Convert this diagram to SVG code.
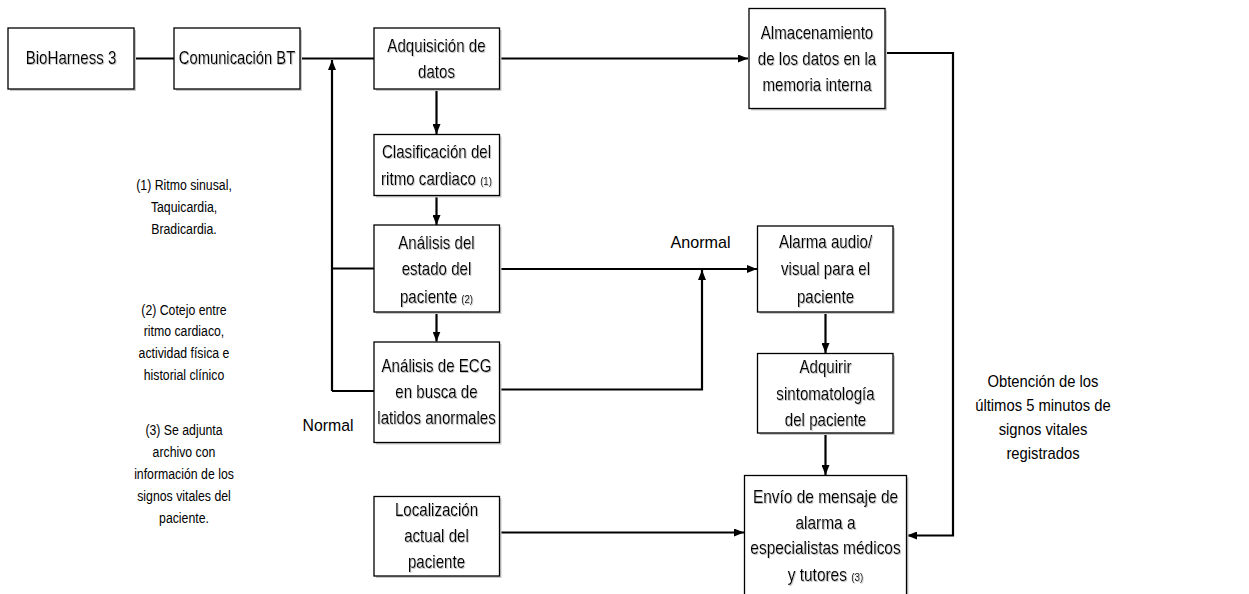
<svg xmlns="http://www.w3.org/2000/svg" width="1249" height="594" viewBox="0 0 1249 594">
<style>
.box{fill:#fff;stroke:#000;stroke-width:1.3}
.sh{fill:#c8c8c8}
.t{font-family:"Liberation Sans",Arial,sans-serif;font-size:18px;text-anchor:middle;fill:#000}
.n{font-family:"Liberation Sans",Arial,sans-serif;font-size:15px;text-anchor:middle;fill:#000}
.l{font-family:"Liberation Sans",Arial,sans-serif;font-size:17px;text-anchor:middle;fill:#000}
.o{font-family:"Liberation Sans",Arial,sans-serif;font-size:17px;text-anchor:middle;fill:#000}
.s{font-size:11.5px}
.c{fill:none;stroke:#000;stroke-width:2.2}
</style>
<defs>
<marker id="ah" markerWidth="10" markerHeight="8" refX="10" refY="4" orient="auto" markerUnits="userSpaceOnUse">
<path d="M0,0 L10,4 L0,8 Z" fill="#000"/>
</marker>
<filter id="ts" x="-5%" y="-20%" width="110%" height="140%">
<feDropShadow dx="1" dy="1" stdDeviation="0.4" flood-color="#9a9a9a" flood-opacity="0.6"/>
</filter>
</defs>
<rect width="1249" height="594" fill="#fff"/>

<g id="connectors">
<path class="c" d="M134,58.5 H174"/>
<path class="c" d="M300,58.5 H374"/>
<path class="c" d="M332,391 V60" marker-end="url(#ah)"/>
<path class="c" d="M332,268.5 H374"/>
<path class="c" d="M332,391 H374"/>
<path class="c" d="M499,58.5 H748" marker-end="url(#ah)"/>
<path class="c" d="M436.5,89 V134" marker-end="url(#ah)"/>
<path class="c" d="M436.5,195 V225" marker-end="url(#ah)"/>
<path class="c" d="M436.5,312 V341.5" marker-end="url(#ah)"/>
<path class="c" d="M499,269 H757" marker-end="url(#ah)"/>
<path class="c" d="M499,389.5 H702 V270" marker-end="url(#ah)"/>
<path class="c" d="M825.5,312 V353" marker-end="url(#ah)"/>
<path class="c" d="M825.5,433 V475" marker-end="url(#ah)"/>
<path class="c" d="M499,532.5 H744" marker-end="url(#ah)"/>
<path class="c" d="M885,53 H953 V535.5 H907" marker-end="url(#ah)"/>
</g>

<g id="bioharness">
<rect class="sh" x="10" y="30" width="126" height="61"/>
<rect class="box" x="8" y="28" width="126" height="61"/>
<g transform="translate(71 0) scale(0.84 1)" filter="url(#ts)">
<text class="t" x="0" y="64.5">BioHarness 3</text>
</g>
</g>
<g id="comunicacion">
<rect class="sh" x="176" y="30" width="126" height="61"/>
<rect class="box" x="174" y="28" width="126" height="61"/>
<g transform="translate(237 0) scale(0.82 1)" filter="url(#ts)">
<text class="t" x="0" y="64.5">Comunicación BT</text>
</g>
</g>
<g id="adquisicion">
<rect class="sh" x="376" y="30" width="125.5" height="61"/>
<rect class="box" x="374" y="28" width="125.5" height="61"/>
<g transform="translate(436.5 0) scale(0.84 1)" filter="url(#ts)">
<text class="t" x="0" y="52">Adquisición de</text>
<text class="t" x="0" y="78">datos</text>
</g>
</g>
<g id="almacenamiento">
<rect class="sh" x="751" y="10.5" width="136" height="100"/>
<rect class="box" x="749" y="8.5" width="136" height="100"/>
<g transform="translate(817 0) scale(0.84 1)" filter="url(#ts)">
<text class="t" x="0" y="39.5">Almacenamiento</text>
<text class="t" x="0" y="65.5">de los datos en la</text>
<text class="t" x="0" y="91.5">memoria interna</text>
</g>
</g>
<g id="clasificacion">
<rect class="sh" x="376" y="136.5" width="125.5" height="61"/>
<rect class="box" x="374" y="134.5" width="125.5" height="61"/>
<g transform="translate(436.5 0) scale(0.84 1)" filter="url(#ts)">
<text class="t" x="0" y="158">Clasificación del</text>
<text class="t" x="0" y="185.5">ritmo cardiaco <tspan class="s">(1)</tspan></text>
</g>
</g>
<g id="analisis-estado">
<rect class="sh" x="376" y="227" width="125.5" height="87"/>
<rect class="box" x="374" y="225" width="125.5" height="87"/>
<g transform="translate(436.5 0) scale(0.84 1)" filter="url(#ts)">
<text class="t" x="0" y="249">Análisis del</text>
<text class="t" x="0" y="275.5">estado del</text>
<text class="t" x="0" y="303">paciente <tspan class="s">(2)</tspan></text>
</g>
</g>
<g id="analisis-ecg">
<rect class="sh" x="376" y="344" width="125.5" height="100.5"/>
<rect class="box" x="374" y="342" width="125.5" height="100.5"/>
<g transform="translate(436.5 0) scale(0.84 1)" filter="url(#ts)">
<text class="t" x="0" y="372.5">Análisis de ECG</text>
<text class="t" x="0" y="398">en busca de</text>
<text class="t" x="0" y="424.5">latidos anormales</text>
</g>
</g>
<g id="localizacion">
<rect class="sh" x="376" y="498.5" width="125.5" height="79.5"/>
<rect class="box" x="374" y="496.5" width="125.5" height="79.5"/>
<g transform="translate(436.5 0) scale(0.84 1)" filter="url(#ts)">
<text class="t" x="0" y="516.5">Localización</text>
<text class="t" x="0" y="542">actual del</text>
<text class="t" x="0" y="568">paciente</text>
</g>
</g>
<g id="alarma">
<rect class="sh" x="759.5" y="228" width="135.5" height="86"/>
<rect class="box" x="757.5" y="226" width="135.5" height="86"/>
<g transform="translate(825.5 0) scale(0.84 1)" filter="url(#ts)">
<text class="t" x="0" y="248.5">Alarma audio/</text>
<text class="t" x="0" y="275.5">visual para el</text>
<text class="t" x="0" y="303">paciente</text>
</g>
</g>
<g id="adquirir">
<rect class="sh" x="759.5" y="355.5" width="135.5" height="79.5"/>
<rect class="box" x="757.5" y="353.5" width="135.5" height="79.5"/>
<g transform="translate(825.5 0) scale(0.84 1)" filter="url(#ts)">
<text class="t" x="0" y="373.5">Adquirir</text>
<text class="t" x="0" y="400">sintomatología</text>
<text class="t" x="0" y="426">del paciente</text>
</g>
</g>
<g id="envio">
<rect class="sh" x="746.5" y="477.5" width="162" height="130"/>
<rect class="box" x="744.5" y="475.5" width="162" height="130"/>
<g transform="translate(825.5 0) scale(0.86 1)" filter="url(#ts)">
<text class="t" x="0" y="503">Envío de mensaje de</text>
<text class="t" x="0" y="529">alarma a</text>
<text class="t" x="0" y="554.5">especialistas médicos</text>
<text class="t" x="0" y="581">y tutores <tspan class="s">(3)</tspan></text>
</g>
</g>

<g id="labels">
<g transform="translate(700.5 0) scale(0.95 1)">
<text class="l" x="0" y="248">Anormal</text>
</g>
<g transform="translate(328 0) scale(0.93 1)">
<text class="l" x="0" y="431">Normal</text>
</g>
<g transform="translate(1043 0) scale(0.87 1)">
<text class="o" x="0" y="387.5">Obtención de los</text>
<text class="o" x="0" y="411.5">últimos 5 minutos de</text>
<text class="o" x="0" y="435.5">signos vitales</text>
<text class="o" x="0" y="459">registrados</text>
</g>
</g>
<g id="notes" transform="translate(184 0) scale(0.82 1)">
<text class="n" x="0" y="190">(1) Ritmo sinusal,</text>
<text class="n" x="0" y="212">Taquicardia,</text>
<text class="n" x="0" y="234">Bradicardia.</text>
<text class="n" x="0" y="315.5">(2) Cotejo entre</text>
<text class="n" x="0" y="336.5">ritmo cardiaco,</text>
<text class="n" x="0" y="358">actividad física e</text>
<text class="n" x="0" y="380">historial clínico</text>
<text class="n" x="0" y="435.5">(3) Se adjunta</text>
<text class="n" x="0" y="457.5">archivo con</text>
<text class="n" x="0" y="479.5">información de los</text>
<text class="n" x="0" y="501.5">signos vitales del</text>
<text class="n" x="0" y="523.5">paciente.</text>
</g>
</svg>
